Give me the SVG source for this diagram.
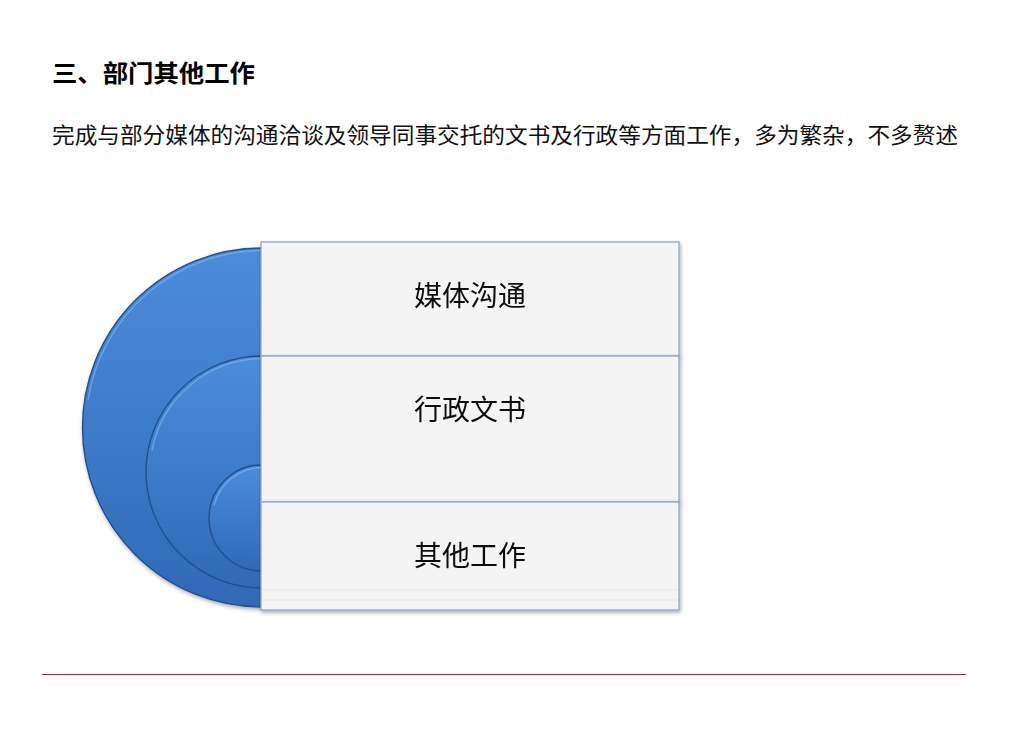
<svg xmlns="http://www.w3.org/2000/svg" width="1024" height="743" viewBox="0 0 1024 743">
<defs>
<linearGradient id="blue" x1="0" y1="0" x2="0" y2="1">
<stop offset="0" stop-color="#4b8ddb"/>
<stop offset="1" stop-color="#3069b6"/>
</linearGradient>
<filter id="sh" x="-10%" y="-10%" width="120%" height="120%">
<feGaussianBlur in="SourceAlpha" stdDeviation="2"/>
<feOffset dx="1" dy="2"/>
<feComponentTransfer><feFuncA type="linear" slope="0.35"/></feComponentTransfer>
<feMerge><feMergeNode/><feMergeNode in="SourceGraphic"/></feMerge>
</filter>
</defs>
<style>
.arc{fill:url(#blue);stroke:#234f8c;stroke-width:1.4}
.hl{fill:none;stroke:#7fb0ea;stroke-width:1.5;stroke-opacity:0.7}
.box{fill:#f4f4f4;stroke:#8ea7cc;stroke-width:1.3}
.lbl{font-family:"Noto Sans CJK SC","Microsoft YaHei",sans-serif;font-size:28px;fill:#111;text-anchor:middle}
.title{font-family:"Noto Sans CJK SC",sans-serif;font-size:24px;font-weight:bold;fill:#000}
.body{font-family:"Noto Sans CJK SC",sans-serif;font-size:22px;fill:#111}
</style>
<rect width="1024" height="743" fill="#fff"/>
<text class="title" x="52" y="82" textLength="203" lengthAdjust="spacingAndGlyphs">三、部门其他工作</text>
<text class="body" x="52" y="143" textLength="906" lengthAdjust="spacingAndGlyphs">完成与部分媒体的沟通洽谈及领导同事交托的文书及行政等方面工作，多为繁杂，不多赘述</text>
<g id="circles" filter="url(#sh)">
<path class="arc" d="M262 248 A179.5 179.5 0 0 0 262 607 Z"/>
<path class="hl" d="M262 250.5 A177 177 0 0 0 88 400"/>
<path class="arc" d="M262 356 A116 116 0 0 0 262 588 Z"/>
<path class="hl" d="M262 358.5 A113.5 113.5 0 0 0 152 450"/>
<path class="arc" d="M262 465 A53 53 0 0 0 262 571 Z"/>
<path class="hl" d="M262 467.5 A50.5 50.5 0 0 0 214 505"/>
</g>
<g id="node1" filter="url(#sh)">
<rect class="box" x="261" y="242" width="418" height="114"/>
<text class="lbl" x="470" y="306">媒体沟通</text>
</g>
<g id="node2" filter="url(#sh)">
<rect class="box" x="261" y="356" width="418" height="146"/>
<text class="lbl" x="470" y="420">行政文书</text>
</g>
<g id="node3" filter="url(#sh)">
<rect class="box" x="261" y="502" width="418" height="108"/>
<line x1="262" y1="590" x2="678" y2="590" stroke="#e6e6e6" stroke-width="1"/>
<line x1="262" y1="600" x2="678" y2="600" stroke="#e6e6e6" stroke-width="1"/>
<text class="lbl" x="470" y="566">其他工作</text>
</g>
<g id="connectors"></g>
<line x1="42" y1="674.5" x2="966" y2="674.5" stroke="#a3283c" stroke-width="1"/>
</svg>
